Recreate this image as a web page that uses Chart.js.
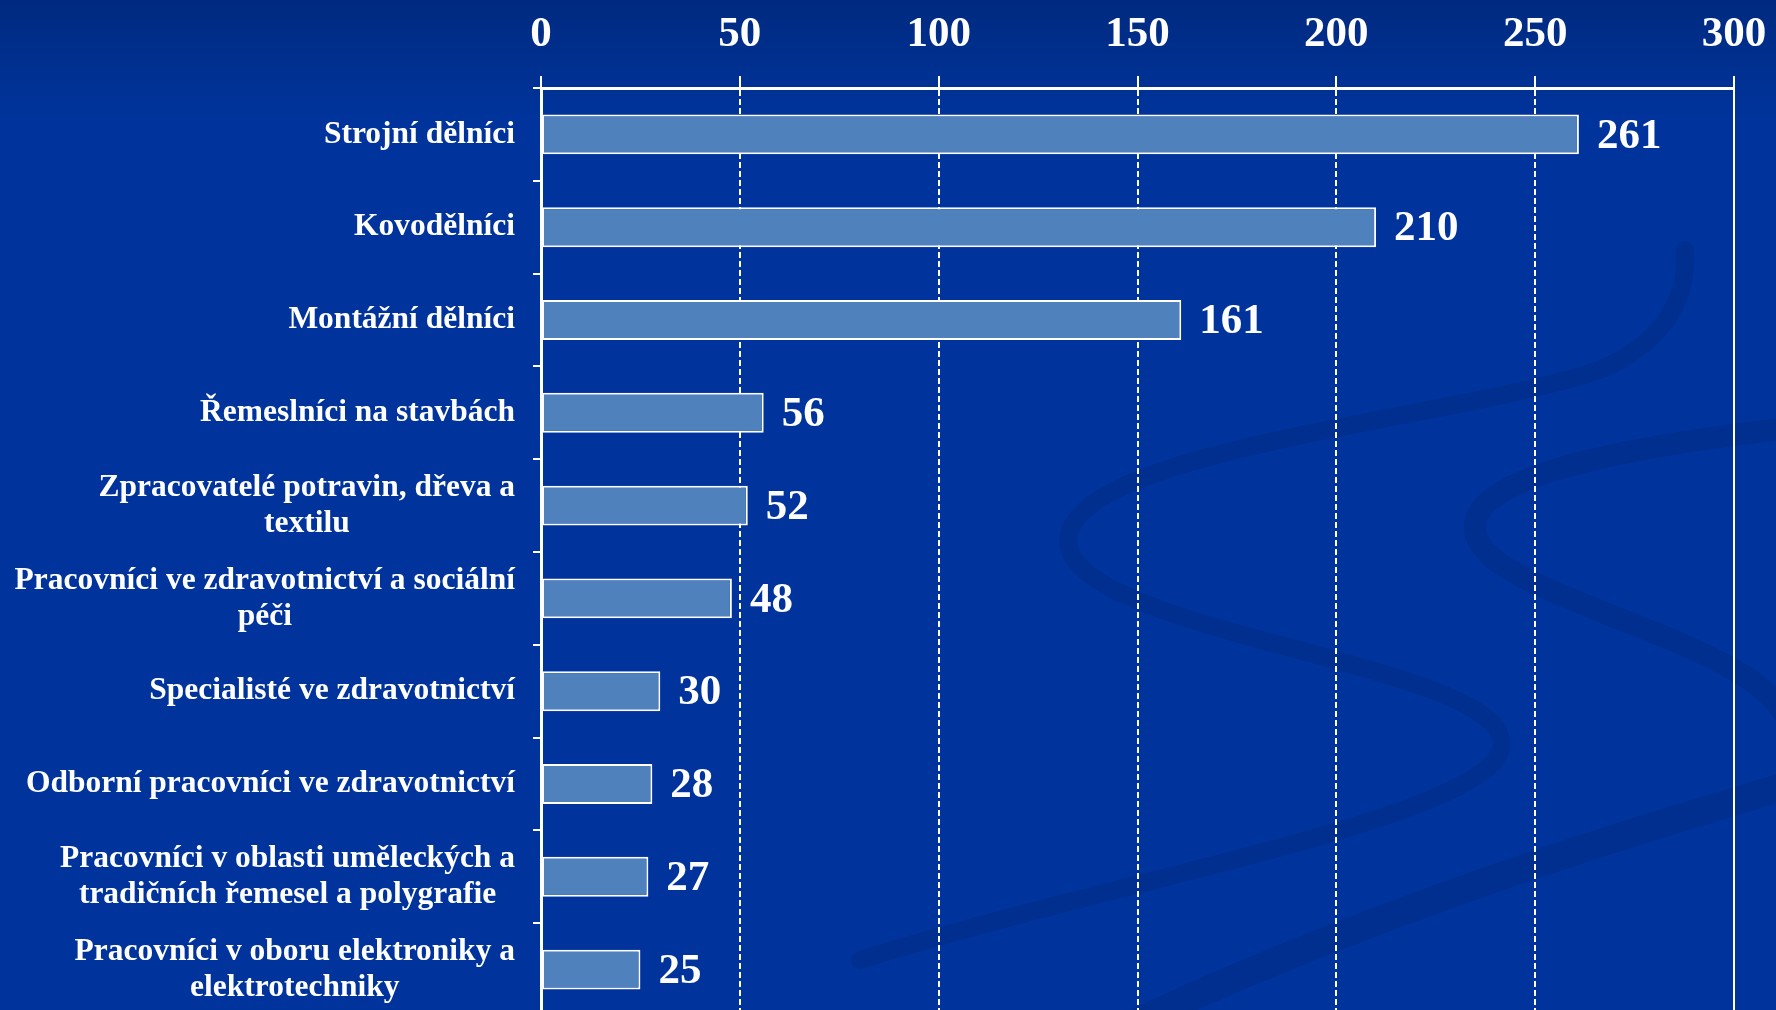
<!DOCTYPE html>
<html>
<head>
<meta charset="utf-8">
<script src="https://cdn.jsdelivr.net/npm/chart.js@4/dist/chart.umd.min.js"></script>
<style>
  html, body { margin: 0; padding: 0; overflow: hidden; background: #00339c; }
  #wrap { width: 1776px; height: 1016px; position: relative; }
</style>
</head>
<body>
<div id="wrap"><canvas id="chart"></canvas></div>
<script>
const categories = [
  ['Strojní dělníci'],
  ['Kovodělníci'],
  ['Montážní dělníci'],
  ['Řemeslníci na stavbách'],
  ['Zpracovatelé potravin, dřeva a', 'textilu'],
  ['Pracovníci ve zdravotnictví a sociální', 'péči'],
  ['Specialisté ve zdravotnictví'],
  ['Odborní pracovníci ve zdravotnictví'],
  ['Pracovníci v oblasti uměleckých a', 'tradičních řemesel a polygrafie'],
  ['Pracovníci v oboru elektroniky a', 'elektrotechniky']
];
const values = [261, 210, 161, 56, 52, 48, 30, 28, 27, 25];
const xMin = 0, xMax = 300, xStep = 50;

const serif = '"Liberation Serif", "DejaVu Serif", serif';

// background gradient + faint swooshes
const backdrop = {
  id: 'backdrop',
  beforeDraw(chart) {
    const { ctx, width, height } = chart;
    ctx.save();
    const g = ctx.createLinearGradient(0, 0, 0, 120);
    g.addColorStop(0, '#002a80');
    g.addColorStop(1, '#00349c');
    ctx.fillStyle = g;
    ctx.fillRect(0, 0, width, height);
    ctx.strokeStyle = 'rgba(0, 20, 80, 0.15)';
    ctx.lineCap = 'round';
    ctx.lineWidth = 18;
    ctx.beginPath();
    ctx.moveTo(860, 960);
    ctx.bezierCurveTo(1150, 870, 1530, 810, 1500, 735);
    ctx.bezierCurveTo(1470, 660, 1070, 630, 1068, 541);
    ctx.bezierCurveTo(1070, 450, 1450, 420, 1600, 370);
    ctx.quadraticCurveTo(1690, 330, 1685, 250);
    ctx.stroke();
    ctx.lineWidth = 22;
    ctx.beginPath();
    ctx.moveTo(1790, 428);
    ctx.bezierCurveTo(1600, 450, 1470, 480, 1475, 530);
    ctx.bezierCurveTo(1480, 600, 1776, 640, 1790, 730);
    ctx.stroke();
    ctx.lineWidth = 28;
    ctx.beginPath();
    ctx.moveTo(1790, 785);
    ctx.bezierCurveTo(1600, 840, 1350, 920, 1120, 1030);
    ctx.stroke();
    ctx.restore();
  }
};

// category labels, each block right-aligned, lines centred on each other
const catLabels = {
  id: 'catLabels',
  afterDraw(chart) {
    const { ctx } = chart;
    const y = chart.scales.y;
    const right = y.right - 26;
    const lh = 36;
    ctx.save();
    ctx.font = 'bold 31.5px ' + serif;
    ctx.fillStyle = '#ffffff';
    ctx.textAlign = 'center';
    ctx.textBaseline = 'middle';
    categories.forEach((lines, i) => {
      const yc = y.getPixelForValue(i);
      const w = Math.max(...lines.map(l => ctx.measureText(l).width));
      const cx = right - w / 2;
      const y0 = yc - (lines.length - 1) * lh / 2;
      lines.forEach((l, j) => ctx.fillText(l, cx, y0 + j * lh));
    });
    ctx.restore();
  }
};

// value labels at the bar ends
const valueLabels = {
  id: 'valueLabels',
  afterDatasetsDraw(chart) {
    const { ctx } = chart;
    const meta = chart.getDatasetMeta(0);
    ctx.save();
    ctx.font = 'bold 43px ' + serif;
    ctx.fillStyle = '#ffffff';
    ctx.textAlign = 'left';
    ctx.textBaseline = 'middle';
    meta.data.forEach((bar, i) => {
      ctx.fillText(String(values[i]), bar.x + 18, bar.y + 2);
    });
    ctx.restore();
  }
};

new Chart(document.getElementById('chart'), {
  type: 'bar',
  data: {
    labels: categories.map(c => c.join(' ')),
    datasets: [{
      data: values,
      backgroundColor: '#4f82bd',
      borderColor: '#ffffff',
      borderWidth: 2,
      borderSkipped: false,
      barPercentage: 0.43,
      categoryPercentage: 1
    }]
  },
  options: {
    indexAxis: 'y',
    responsive: true,
    maintainAspectRatio: false,
    animation: false,
    events: [],
    layout: { padding: { top: 0, right: 42, left: 0, bottom: 0 } },
    plugins: { legend: { display: false }, tooltip: { enabled: false } },
    scales: {
      x: {
        position: 'top',
        min: xMin,
        max: xMax,
        ticks: {
          stepSize: xStep,
          color: '#ffffff',
          padding: 15,
          font: { family: serif, size: 43, weight: 'bold' }
        },
        grid: {
          color: '#ffffff',
          lineWidth: 2,
          tickLength: 12,
          tickColor: '#ffffff',
          tickWidth: 2
        },
        border: {
          color: '#ffffff',
          width: 3,
          dash: ctx => (ctx.tick && ctx.tick.value === xMax) ? [] : [6, 3]
        },
        afterFit(scale) {
          scale.height = 88;
          scale.paddingLeft = 0;
          scale.paddingRight = 0;
        }
      },
      y: {
        ticks: { display: false },
        grid: {
          drawOnChartArea: false,
          color: '#ffffff',
          lineWidth: 2,
          tickLength: 8
        },
        border: { color: '#ffffff', width: 3 },
        afterFit(scale) { scale.width = 541; }
      }
    }
  },
  plugins: [backdrop, catLabels, valueLabels]
});
</script>
</body>
</html>
